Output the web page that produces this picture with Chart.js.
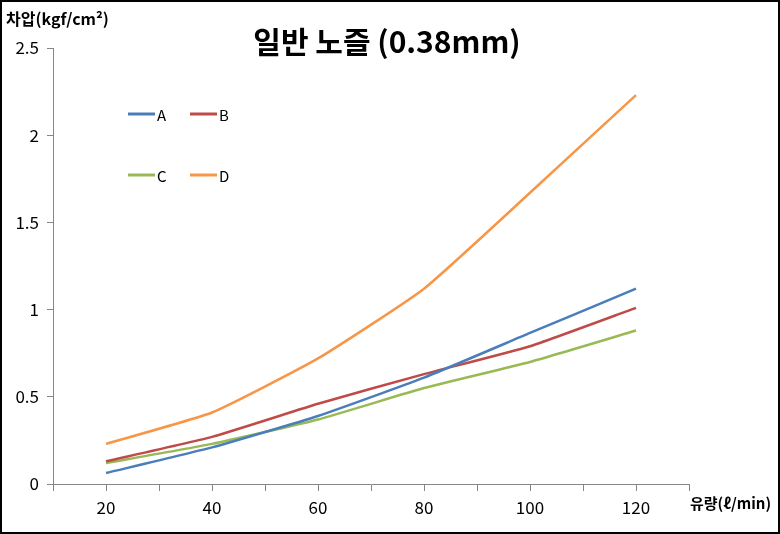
<!DOCTYPE html>
<html>
<head>
<meta charset="utf-8">
<script src="https://cdn.jsdelivr.net/npm/chart.js@4"></script>
<style>
  html, body { margin: 0; padding: 0; background: #fff; }
  #wrap { width: 780px; height: 534px; position: relative; }
</style>
</head>
<body>
<div id="wrap"><canvas id="myChart" width="780" height="534"></canvas></div>
<script>
const flows = [20, 40, 60, 80, 100, 120];
const seriesNames = ["A", "B", "C", "D"];
const seriesA = [0.063, 0.21, 0.39, 0.61, 0.866, 1.12];
const seriesB = [0.13, 0.27, 0.46, 0.63, 0.79, 1.01];
const seriesC = [0.12, 0.23, 0.37, 0.55, 0.70, 0.88];
const seriesD = [0.23, 0.41, 0.72, 1.12, 1.67, 2.23];
const colors = ["#4A7EBB", "#BE4B48", "#98B954", "#F79646"];

const FONT = "'Noto Sans CJK KR', 'Noto Sans', sans-serif";

function pts(vals) {
    return flows.map(function (x, i) { return { x: x, y: vals[i] }; });
}

const extras = {
    id: "extras",
    afterDraw: function (chart) {
        const c = chart.ctx;
        c.save();
        // outer border
        c.strokeStyle = "#000";
        c.lineWidth = 2;
        c.strokeRect(1, 1, 778, 532);
        // title
        c.fillStyle = "#000";
        c.textAlign = "center";
        c.textBaseline = "middle";
        c.font = "bold 30px " + FONT;
        c.fillText("일반 노즐 (0.38mm)", 387, 42);
        // axis titles
        c.textAlign = "left";
        c.font = "bold 16px " + FONT;
        c.fillText("차압(kgf/cm²)", 6, 19);
        c.font = "bold 15px " + FONT;
        c.fillText("유량(ℓ/min)", 690, 503);
        // legend 2x2
        const pos = [[128, 114], [190, 114], [128, 175], [190, 175]];
        chart.data.datasets.forEach(function (ds, i) {
            const p = pos[i];
            c.strokeStyle = ds.borderColor;
            c.lineWidth = 3;
            c.beginPath();
            c.moveTo(p[0], p[1]);
            c.lineTo(p[0] + 27, p[1]);
            c.stroke();
            c.fillStyle = "#000";
            c.font = "15px " + FONT;
            c.fillText(ds.label, p[0] + 29, p[1] + 1);
        });
        c.restore();
    }
};

new Chart(document.getElementById("myChart"), {
    type: "line",
    data: {
        datasets: [
            { label: seriesNames[0], data: pts(seriesA), borderColor: colors[0] },
            { label: seriesNames[1], data: pts(seriesB), borderColor: colors[1] },
            { label: seriesNames[2], data: pts(seriesC), borderColor: colors[2] },
            { label: seriesNames[3], data: pts(seriesD), borderColor: colors[3] },
        ],
    },
    options: {
        responsive: false,
        animation: false,
        elements: {
            line: { borderWidth: 2.5, tension: 0.15, fill: false },
            point: { radius: 0 },
        },
        layout: { padding: { top: 48, left: 0, right: 91, bottom: 0 } },
        plugins: {
            legend: { display: false },
            title: { display: false },
            tooltip: { enabled: false },
        },
        scales: {
            x: {
                type: "linear",
                min: 10,
                max: 130,
                afterFit: function (s) { s.height = 50; },
                afterBuildTicks: function (s) {
                    s.ticks = [];
                    for (let v = 10; v <= 130; v += 10) s.ticks.push({ value: v });
                },
                ticks: {
                    autoSkip: false,
                    maxRotation: 0,
                    padding: 6,
                    color: "#000",
                    font: { family: FONT, size: 17 },
                    callback: function (v) {
                        return (v % 20 === 0 && v >= 20 && v <= 120) ? String(v) : "";
                    },
                },
                grid: { drawOnChartArea: false, tickLength: 7, color: "#868686" },
                border: { color: "#868686", width: 1 },
            },
            y: {
                min: 0,
                max: 2.5,
                afterFit: function (s) { s.width = 53; },
                ticks: {
                    stepSize: 0.5,
                    padding: 8,
                    color: "#000",
                    font: { family: FONT, size: 17 },
                    callback: function (v) { return String(v); },
                },
                grid: { drawOnChartArea: false, tickLength: 6, color: "#868686" },
                border: { color: "#868686", width: 1 },
            },
        },
    },
    plugins: [extras],
});
</script>
</body>
</html>
